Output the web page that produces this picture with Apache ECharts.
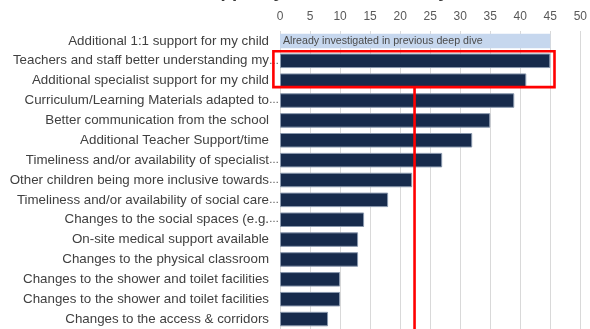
<!DOCTYPE html>
<html>
<head>
<meta charset="utf-8">
<style>
  html, body { margin: 0; padding: 0; background: #ffffff; }
  #chart { width: 590px; height: 329px; }
</style>
<script src="https://cdn.jsdelivr.net/npm/echarts@6/dist/echarts.min.js"></script>
</head>
<body>
<div id="chart"></div>
<script>
// Survey responses: support that would help, ordered by count
const categories = [
  'Additional 1:1 support for my child',
  'Teachers and staff better understanding my\u2026',
  'Additional specialist support for my child',
  'Curriculum/Learning Materials adapted to\u2026',
  'Better communication from the school',
  'Additional Teacher Support/time',
  'Timeliness and/or availability of specialist\u2026',
  'Other children being more inclusive towards\u2026',
  'Timeliness and/or availability of social care\u2026',
  'Changes to the social spaces (e.g.\u2026',
  'On-site medical support available',
  'Changes to the physical classroom',
  'Changes to the shower and toilet facilities',
  'Changes to the shower and toilet facilities',
  'Changes to the access & corridors'
];
const counts = [45, 45, 41, 39, 35, 32, 27, 22, 18, 14, 13, 13, 10, 10, 8];
const previouslyInvestigated = [0];          // rows already covered elsewhere
const previousNote = 'Already investigated in previous deep dive';
const highlightedRows = [1, 2];              // rows boxed in red
const cutOffValue = 22.4;                    // red reference line
const tickLabels = ['0', '5', '10', '15', '20', '25', '30', '35', '40', '45', '50'];
const titleText = 'What support your child needs by theme';

const NAVY = '#172b4c';
const PALE = '#c6d7ee';
const RED = '#ff0000';
const FONT = 'Liberation Sans, Arial, sans-serif';

const chart = echarts.init(document.getElementById('chart'), null, { renderer: 'canvas' });

const seriesData = counts.map((v, i) => {
  if (previouslyInvestigated.includes(i)) {
    return {
      value: v,
      itemStyle: { color: PALE, borderColor: PALE, borderWidth: 0 },
      label: {
        show: true,
        position: 'insideLeft',
        offset: [-2, 0],
        formatter: previousNote,
        fontFamily: FONT,
        fontSize: 10.67,
        color: '#4a4a4a'
      }
    };
  }
  return v;
});

// Full names keep a small gap before the bars; truncated ones let the
// ellipsis run up to the axis
function categoryLabel(name) {
  if (name.endsWith('\u2026')) {
    return '{t|' + name.slice(0, -1) + '}{e|\u2026}';
  }
  return '{t|' + name + '}{s| }';
}

chart.setOption({
  animation: false,
  backgroundColor: '#ffffff',
  title: {
    text: titleText,
    left: 148,
    top: -18,
    padding: 0,
    textStyle: {
      fontFamily: FONT,
      fontSize: 18.67,
      fontWeight: 'bold',
      color: '#3a3a3a',
      lineHeight: 19
    }
  },
  grid: { left: 280, right: 8, top: 31, bottom: -2, containLabel: false },
  xAxis: {
    type: 'value',
    position: 'top',
    min: 0,
    max: 50,
    interval: 5,
    axisLine: { show: false },
    axisTick: { show: false },
    splitLine: { lineStyle: { color: '#d9d9d9', width: 1 } },
    axisLabel: {
      margin: 8,
      fontFamily: FONT,
      fontSize: 12,
      color: '#595959',
      formatter: (v) => tickLabels[Math.round(v / 5)]
    }
  },
  yAxis: {
    type: 'category',
    inverse: true,
    data: categories,
    axisLine: { show: false },
    axisTick: { show: false },
    axisLabel: {
      margin: 1,
      formatter: categoryLabel,
      rich: {
        t: { fontFamily: FONT, fontSize: 13.33, color: '#404040' },
        e: { fontFamily: FONT, fontSize: 10, color: '#404040' },
        s: { fontFamily: FONT, fontSize: 13.33, width: 10 }
      }
    }
  },
  series: [{
    type: 'bar',
    data: seriesData,
    barCategoryGap: '27%',
    itemStyle: { color: NAVY, borderColor: '#8897ad', borderWidth: 1 }
  }]
});

// Red annotation box around the highlighted rows and the reference line below it
function drawAnnotations() {
  const yTop = chart.convertToPixel({ yAxisIndex: 0 }, highlightedRows[0]);
  const yBot = chart.convertToPixel({ yAxisIndex: 0 }, highlightedRows[highlightedRows.length - 1]);
  const xLeft = chart.convertToPixel({ xAxisIndex: 0 }, -1.1);
  const xRight = chart.convertToPixel({ xAxisIndex: 0 }, 45.7);
  const xLine = chart.convertToPixel({ xAxisIndex: 0 }, cutOffValue);
  const boxTop = yTop - 9.5;
  const boxBottom = yBot + 6.5;
  chart.setOption({
    graphic: [
      {
        type: 'rect',
        z: 100,
        shape: { x: xLeft, y: boxTop, width: xRight - xLeft, height: boxBottom - boxTop },
        style: { fill: 'none', stroke: RED, lineWidth: 2.6 }
      },
      {
        type: 'line',
        z: 100,
        shape: { x1: xLine, y1: boxBottom, x2: xLine, y2: 340 },
        style: { stroke: RED, lineWidth: 2.6 }
      }
    ]
  });
}
drawAnnotations();
</script>
</body>
</html>
